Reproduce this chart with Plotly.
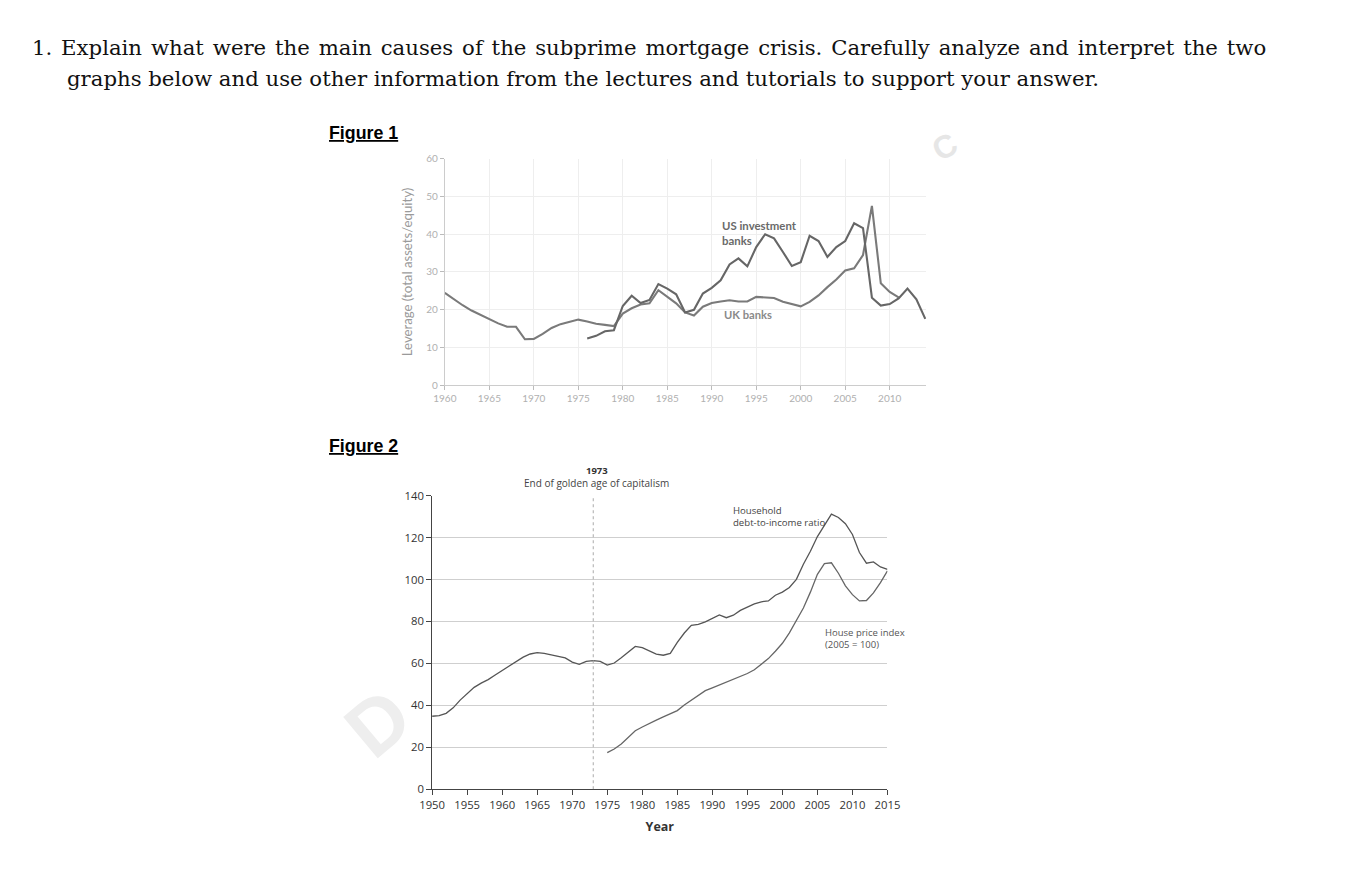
import plotly.graph_objects as go

W, H = 1348, 879

# ---------------- Figure 1 data: bank leverage ----------------
uk_years = [1960, 1961, 1962, 1963, 1964, 1965, 1966, 1967, 1968, 1969, 1970, 1971, 1972,
            1973, 1974, 1975, 1976, 1977, 1978, 1979, 1980, 1981, 1982, 1983, 1984, 1985,
            1986, 1987, 1988, 1989, 1990, 1991, 1992, 1993, 1994, 1995, 1996, 1997, 1998,
            1999, 2000, 2001, 2002, 2003, 2004, 2005, 2006, 2007, 2008, 2009, 2010, 2011]
uk_lev = [24.5, 22.8, 21.2, 19.8, 18.6, 17.6, 16.4, 15.5, 15.5, 12.2, 12.3, 13.6, 15.2,
          16.2, 16.9, 17.4, 16.9, 16.3, 16.0, 15.7, 19.0, 20.4, 21.4, 21.7, 25.2, 23.5,
          21.7, 19.3, 18.5, 20.8, 21.8, 22.2, 22.5, 22.2, 22.2, 23.4, 23.2, 23.1, 22.1,
          21.4, 20.9, 22.1, 23.8, 26.0, 28.0, 30.4, 31.0, 34.5, 47.5, 27.0, 24.7, 23.3]

us_years = [1976, 1977, 1978, 1979, 1980, 1981, 1982, 1983, 1984, 1985, 1986, 1987, 1988,
            1989, 1990, 1991, 1992, 1993, 1994, 1995, 1996, 1997, 1998, 1999, 2000, 2001,
            2002, 2003, 2004, 2005, 2006, 2007, 2008, 2009, 2010, 2011, 2012, 2013, 2014]
us_lev = [12.4, 13.1, 14.3, 14.6, 21.0, 23.7, 21.8, 22.6, 26.8, 25.6, 24.1, 19.3, 20.0,
          24.3, 25.8, 27.8, 32.0, 33.6, 31.5, 36.6, 40.0, 38.9, 35.3, 31.6, 32.6, 39.6,
          38.2, 34.0, 36.6, 38.2, 42.9, 41.6, 23.2, 21.1, 21.5, 23.0, 25.6, 22.8, 17.6]

fig1_xticks = [1960, 1965, 1970, 1975, 1980, 1985, 1990, 1995, 2000, 2005, 2010]
fig1_yticks = [0, 10, 20, 30, 40, 50, 60]

# ---------------- Figure 2 data: household debt and house prices ----------------
debt_years = [1950, 1951, 1952, 1953, 1954, 1955, 1956, 1957, 1958, 1959, 1960, 1961, 1962,
              1963, 1964, 1965, 1966, 1967, 1968, 1969, 1970, 1971, 1972, 1973, 1974, 1975,
              1976, 1977, 1978, 1979, 1980, 1981, 1982, 1983, 1984, 1985, 1986, 1987, 1988,
              1989, 1990, 1991, 1992, 1993, 1994, 1995, 1996, 1997, 1998, 1999, 2000, 2001,
              2002, 2003, 2004, 2005, 2006, 2007, 2008, 2009, 2010, 2011, 2012, 2013, 2014,
              2015]
debt_ratio = [34.8, 35.1, 36.2, 38.8, 42.5, 45.8, 48.6, 50.6, 52.3, 54.5, 56.6, 58.6, 60.6,
              63.0, 64.5, 65.1, 64.8, 64.2, 63.4, 62.6, 60.6, 59.6, 61.0, 61.3, 61.0, 59.2,
              60.2, 62.7, 65.4, 68.1, 67.5, 65.8, 64.4, 63.9, 64.8, 70.0, 74.5, 78.2, 78.6,
              79.8, 81.3, 83.1, 81.8, 83.0, 85.3, 86.8, 88.4, 89.4, 89.8, 92.5, 94.0, 96.2,
              100.1, 107.3, 113.5, 120.5, 125.9, 131.2, 129.6, 126.6, 121.5, 112.9, 107.8, 108.4,
              106.0, 104.9]

hpi_years = [1975, 1976, 1977, 1978, 1979, 1980, 1981, 1982, 1983, 1984, 1985, 1986, 1987,
             1988, 1989, 1990, 1991, 1992, 1993, 1994, 1995, 1996, 1997, 1998, 1999, 2000,
             2001, 2002, 2003, 2004, 2005, 2006, 2007, 2008, 2009, 2010, 2011, 2012, 2013,
             2014, 2015]
hpi = [17.5, 19.2, 21.6, 25.0, 27.9, 29.7, 31.5, 33.0, 34.5, 35.9, 37.5, 40.2, 42.6,
       45.0, 47.0, 48.3, 49.7, 51.0, 52.3, 53.6, 55.2, 57.0, 59.6, 62.3, 65.8, 69.6,
       74.6, 80.2, 86.4, 94.0, 102.5, 107.6, 108.0, 103.0, 97.0, 92.8, 89.8, 90.0, 93.6,
       98.5, 104.1]

fig2_xticks = [1950, 1955, 1960, 1965, 1970, 1975, 1980, 1985, 1990, 1995, 2000, 2005, 2010, 2015]
fig2_yticks = [0, 20, 40, 60, 80, 100, 120, 140]

question_line1 = "1. Explain what were the main causes of the subprime mortgage crisis. Carefully analyze and interpret the two"
question_line2 = "graphs below and use other information from the lectures and tutorials to support your answer."

# the page is shown slightly scaled about its centre; compensate layout positions
S, CX, CY = 0.98, W / 2, H / 2
K = 1 / S


def fx(px):
    return (CX + (px - CX) / S) / W


def fy(py):
    return 1 - (CY + (py - CY) / S) / H


fig = go.Figure()

# Figure 1 traces
fig.add_trace(go.Scatter(x=uk_years, y=uk_lev, mode="lines", xaxis="x", yaxis="y",
                         line=dict(color="#7a7a7a", width=2.1), showlegend=False, name="UK banks"))
fig.add_trace(go.Scatter(x=us_years, y=us_lev, mode="lines", xaxis="x", yaxis="y",
                         line=dict(color="#666666", width=2.1), showlegend=False,
                         name="US investment banks"))

# Figure 2 traces
fig.add_trace(go.Scatter(x=debt_years, y=debt_ratio, mode="lines", xaxis="x2", yaxis="y2",
                         line=dict(color="#555555", width=1.3), showlegend=False,
                         name="Household debt-to-income ratio"))
fig.add_trace(go.Scatter(x=hpi_years, y=hpi, mode="lines", xaxis="x2", yaxis="y2",
                         line=dict(color="#666666", width=1.3), showlegend=False,
                         name="House price index"))

grey_tick = dict(family="Lato, Open Sans, sans-serif", size=10, color="#b0b0b0")
dark_tick = dict(family="Open Sans, Lato, sans-serif", size=11.3, color="#333333")

fig.update_layout(
    width=W, height=H,
    margin=dict(l=0, r=0, t=0, b=0),
    paper_bgcolor="white", plot_bgcolor="white",
    xaxis=dict(domain=[fx(445), fx(926)], range=[1960, 2014.1], anchor="y",
               tickvals=fig1_xticks, ticks="outside", ticklen=4, tickcolor="#bbbbbb",
               showline=True, linecolor="#cccccc", linewidth=1,
               showgrid=True, gridcolor="#eeeeee", gridwidth=1,
               tickfont=grey_tick, zeroline=False, fixedrange=True),
    yaxis=dict(domain=[fy(385), fy(159)], range=[0, 60], anchor="x",
               tickvals=fig1_yticks, ticks="outside", ticklen=4, tickcolor="#bbbbbb",
               showline=True, linecolor="#cccccc", linewidth=1,
               showgrid=True, gridcolor="#eeeeee", gridwidth=1,
               tickfont=grey_tick, zeroline=False,
               title=dict(text="Leverage (total assets/equity)", standoff=10,
                          font=dict(family="Lato, Open Sans, sans-serif", size=13.2,
                                    color="#9a9a9a"))),
    xaxis2=dict(domain=[fx(432.3), fx(887.3)], range=[1950, 2015], anchor="y2",
                tickvals=fig2_xticks, ticks="outside", ticklen=5, tickcolor="#444444",
                showline=True, linecolor="#444444", linewidth=1,
                showgrid=False, tickfont=dark_tick, zeroline=False,
                title=dict(text="<b>Year</b>", standoff=11,
                           font=dict(family="Open Sans, Lato, sans-serif", size=12.5,
                                     color="#333333"))),
    yaxis2=dict(domain=[fy(787.7), fy(495)], range=[0, 140], anchor="x2",
                tickvals=fig2_yticks, ticks="outside", ticklen=5, tickcolor="#444444",
                showline=True, linecolor="#444444", linewidth=1,
                showgrid=True, gridcolor="#cfcfcf", gridwidth=1,
                tickfont=dark_tick, zeroline=False),
)

# 1973 dotted line (data coords)
fig.add_shape(type="line", xref="x2", yref="y2", x0=1973, x1=1973, y0=0, y1=140,
              line=dict(color="#aaaaaa", width=1, dash="dot"))

serif = dict(family="DejaVu Serif, Liberation Serif, serif", size=20.8 * K, color="#111111")
line1_justified = question_line1.replace(" ", " \u200a")
annotations = [
    # faint watermark fragments
    dict(text="<b>D</b>", x=fx(378), y=fy(722), xref="paper", yref="paper", textangle=-40,
         xanchor="center", yanchor="middle", showarrow=False,
         font=dict(family="Liberation Sans, Arial, sans-serif", size=78, color="#eeeeee")),
    dict(text="<b>C</b>", x=fx(944), y=fy(147), xref="paper", yref="paper", textangle=-30,
         xanchor="center", yanchor="middle", showarrow=False,
         font=dict(family="Liberation Sans, Arial, sans-serif", size=32, color="#e6e6e6")),
    dict(text=line1_justified,
         x=fx(30), y=fy(48), xref="paper", yref="paper", xanchor="left", yanchor="middle",
         showarrow=False, font=serif),
    dict(text=question_line2,
         x=fx(65), y=fy(79), xref="paper", yref="paper", xanchor="left", yanchor="middle",
         showarrow=False, font=serif),
    dict(text="<b><u>Figure 1</u></b>", x=fx(327), y=fy(133), xref="paper", yref="paper",
         xanchor="left", yanchor="middle", showarrow=False,
         font=dict(family="Liberation Sans, Arial, sans-serif", size=17.8, color="#000000")),
    dict(text="<b><u>Figure 2</u></b>", x=fx(327), y=fy(445), xref="paper", yref="paper",
         xanchor="left", yanchor="middle", showarrow=False,
         font=dict(family="Liberation Sans, Arial, sans-serif", size=17.8, color="#000000")),
    # Figure 1 labels
    dict(text="<b>US investment<br>banks</b>", x=1990.9, y=44.5, xref="x", yref="y",
         xanchor="left", yanchor="top", align="left", showarrow=False,
         font=dict(family="Lato, Open Sans, sans-serif", size=11.4, color="#6a6a6a")),
    dict(text="<b>UK banks</b>", x=1991.1, y=18.8, xref="x", yref="y",
         xanchor="left", yanchor="middle", align="left", showarrow=False,
         font=dict(family="Lato, Open Sans, sans-serif", size=11.2, color="#8a8a8a")),
    # Figure 2 labels
    dict(text="<b>1973</b>", x=1973.5, y=fy(470), xref="x2", yref="paper",
         xanchor="center", yanchor="middle", showarrow=False,
         font=dict(family="Open Sans, Lato, sans-serif", size=9.5, color="#333333")),
    dict(text="End of golden age of capitalism", x=1973.5, y=fy(482), xref="x2", yref="paper",
         xanchor="center", yanchor="middle", showarrow=False,
         font=dict(family="Open Sans, Lato, sans-serif", size=10, color="#444444")),
    dict(text="Household<br>debt-to-income ratio", x=1992.6, y=137, xref="x2", yref="y2",
         xanchor="left", yanchor="top", align="left", showarrow=False,
         font=dict(family="Open Sans, Lato, sans-serif", size=9.6, color="#444444")),
    dict(text="House price index<br>(2005 = 100)", x=2005.8, y=79, xref="x2", yref="y2",
         xanchor="left", yanchor="top", align="left", showarrow=False,
         font=dict(family="Open Sans, Lato, sans-serif", size=9.5, color="#555555")),
]
fig.update_layout(annotations=annotations)

fig.write_html("out.html", config={"displayModeBar": False, "staticPlot": True},
               post_script="document.body.style.margin='0';document.body.style.overflow='hidden';")
